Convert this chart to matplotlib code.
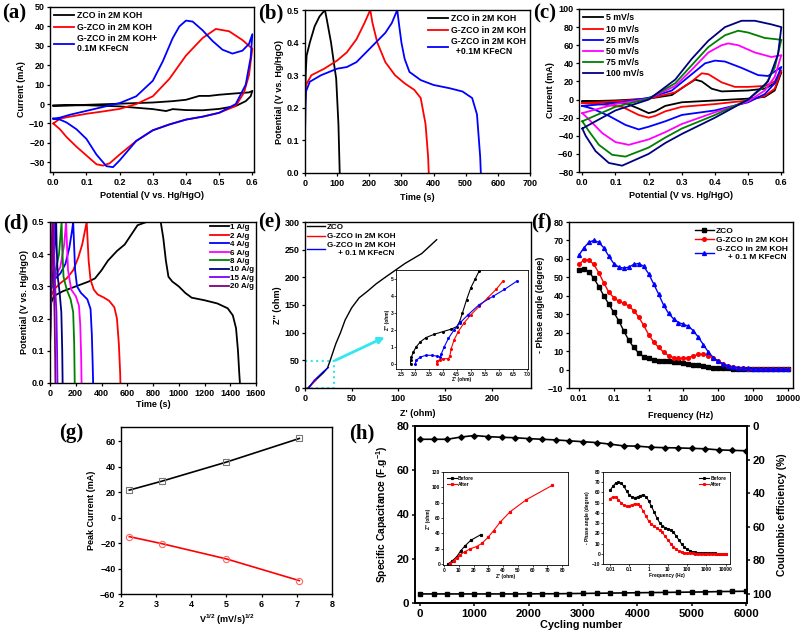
import matplotlib
matplotlib.use('Agg')
import matplotlib.pyplot as plt
from matplotlib.patches import Rectangle

plt.rcParams['font.family'] = ['Liberation Sans', 'DejaVu Sans']
plt.rcParams['font.weight'] = 'bold'
plt.rcParams['axes.labelweight'] = 'bold'
plt.rcParams['mathtext.default'] = 'regular'

# ---------------- (a) CV, 25 mV/s ----------------
a_zco_v = [0, 0.1, 0.2, 0.3, 0.36, 0.4, 0.42, 0.44, 0.47, 0.5, 0.55, 0.59, 0.6,
           0.595, 0.58, 0.55, 0.5, 0.45, 0.4, 0.36, 0.34, 0.3, 0.2, 0.1, 0]
a_zco_i = [-0.8, -0.4, 0.2, 0.8, 1.5, 2.2, 3.2, 4.2, 4.2, 4.8, 5.5, 6, 6.8,
           4, 1.5, -1, -2.5, -3.2, -3.1, -2.6, -3.6, -2.6, -1.2, -0.6, -0.8]
a_gzco_v = [0, 0.02, 0.05, 0.1, 0.15, 0.2, 0.25, 0.3, 0.35, 0.4, 0.45, 0.49, 0.53, 0.57, 0.6,
            0.59, 0.575, 0.55, 0.5, 0.45, 0.4, 0.35, 0.3, 0.25, 0.2, 0.17, 0.15, 0.13,
            0.1, 0.07, 0.04, 0.02, 0]
a_gzco_i = [-10, -7.5, -6.5, -5, -3.8, -2.5, 0, 4, 13, 25, 34, 38.7, 37.5, 33, 28.5,
            15, 6, -1, -4.5, -6.5, -8, -10.5, -13.5, -19, -26, -30.5, -31.7, -31,
            -26.5, -22, -17, -13, -10]
a_kfe_v = [0, 0.02, 0.05, 0.1, 0.15, 0.2, 0.25, 0.3, 0.33, 0.36, 0.38, 0.4, 0.42, 0.45,
           0.48, 0.51, 0.54, 0.57, 0.59, 0.6,
           0.595, 0.58, 0.55, 0.5, 0.45, 0.4, 0.35, 0.3, 0.25, 0.22, 0.2, 0.18, 0.16,
           0.13, 0.1, 0.07, 0.04, 0.02, 0]
a_kfe_i = [-7.5, -7, -5.5, -3.5, -1.5, 0.5, 4, 12, 22, 34, 40, 43, 42.5, 38,
           32.5, 28, 26, 27.5, 31, 36,
           24, 10, 0, -4.5, -6.5, -8, -10.5, -13.5, -19, -25, -29, -32.5, -32,
           -26, -18, -13, -9.5, -8, -7.5]
a_labels = ['ZCO in 2M KOH', 'G-ZCO in 2M KOH', 'G-ZCO in 2M KOH+\n0.1M KFeCN']

# ---------------- (b) GCD ----------------
b_zco_t = [0, 2, 5, 15, 30, 45, 62, 68, 81, 91, 97, 104, 108]
b_zco_u = [0.1, 0.3, 0.36, 0.4, 0.45, 0.48, 0.5, 0.47, 0.4, 0.33, 0.29, 0.15, 0.0]
b_gzco_t = [0, 3, 20, 60, 100, 130, 160, 185, 203, 210, 225, 250, 280, 310, 340, 360, 375, 383, 385]
b_gzco_u = [0.22, 0.27, 0.3, 0.32, 0.345, 0.37, 0.41, 0.46, 0.5, 0.46, 0.4, 0.34, 0.3,
            0.275, 0.255, 0.23, 0.15, 0.05, 0.0]
b_kfe_t = [0, 1, 3, 15, 50, 100, 130, 160, 190, 220, 250, 270, 287,
           292, 300, 310, 325, 360, 400, 450, 490, 520, 535, 545, 547]
b_kfe_u = [0.1, 0.2, 0.25, 0.28, 0.3, 0.32, 0.325, 0.34, 0.37, 0.4, 0.43, 0.46, 0.5,
           0.46, 0.4, 0.35, 0.31, 0.285, 0.27, 0.26, 0.25, 0.23, 0.18, 0.05, 0.0]
b_labels = ['ZCO in 2M KOH', 'G-ZCO in 2M KOH', 'G-ZCO in 2M KOH\n  +0.1M KFeCN']

# ---------------- (c) CV at scan rates ----------------
c_rates = ['5 mV/s', '10 mV/s', '25 mV/s', '50 mV/s', '75 mV/s', '100 mV/s']
c_v = [
    [0, 0.1, 0.2, 0.27, 0.31, 0.34, 0.36, 0.39, 0.42, 0.5, 0.55, 0.58, 0.6,
     0.58, 0.55, 0.5, 0.4, 0.3, 0.25, 0.22, 0.2, 0.17, 0.13, 0.05, 0],
    [0, 0.1, 0.2, 0.28, 0.33, 0.36, 0.38, 0.42, 0.46, 0.5, 0.55, 0.58, 0.6,
     0.58, 0.55, 0.5, 0.4, 0.3, 0.25, 0.22, 0.2, 0.17, 0.12, 0.05, 0],
    [0, 0.1, 0.2, 0.27, 0.32, 0.37, 0.4, 0.43, 0.48, 0.53, 0.56, 0.6,
     0.58, 0.55, 0.5, 0.4, 0.3, 0.25, 0.2, 0.17, 0.13, 0.08, 0.03, 0],
    [0, 0.05, 0.1, 0.2, 0.28, 0.33, 0.38, 0.42, 0.44, 0.47, 0.52, 0.57, 0.6,
     0.58, 0.55, 0.5, 0.4, 0.3, 0.25, 0.2, 0.14, 0.1, 0.06, 0.02, 0],
    [0, 0.05, 0.1, 0.2, 0.28, 0.33, 0.38, 0.43, 0.47, 0.5, 0.55, 0.6,
     0.58, 0.55, 0.5, 0.4, 0.3, 0.25, 0.2, 0.13, 0.09, 0.05, 0.02, 0],
    [0, 0.05, 0.1, 0.2, 0.28, 0.33, 0.38, 0.43, 0.48, 0.52, 0.57, 0.6,
     0.59, 0.56, 0.5, 0.4, 0.3, 0.25, 0.2, 0.12, 0.08, 0.04, 0.01, 0],
]
c_i = [
    [-2, -1, 1, 5, 15, 22, 20, 12, 9, 10, 12, 18, 30,
     10, 3, 1, -1, -3, -7, -13, -15, -10, -4, -2.5, -2],
    [-4, -2, 1, 8, 20, 29, 28, 19, 14, 14, 15, 20, 32,
     12, 4, -1, -5, -8, -13, -18, -20, -17, -8, -5, -4],
    [-7, -4, 2, 10, 25, 40, 43, 42, 35, 27, 26, 36,
     18, 6, -3, -12, -17, -24, -30, -33, -28, -18, -10, -7],
    [-15, -10, -5, 1, 15, 33, 52, 60, 62, 60, 52, 47, 49,
     25, 10, -2, -14, -27, -36, -44, -50, -47, -37, -22, -15],
    [-24, -16, -8, 1, 18, 38, 58, 71, 76, 74, 68, 66,
     35, 15, 0, -17, -32, -42, -53, -63, -61, -50, -35, -24],
    [-32, -22, -12, 0, 22, 45, 65, 80, 87, 87, 83, 80,
     50, 20, 0, -20, -38, -48, -60, -73, -70, -57, -40, -32],
]
c_colors = ['black', 'red', '#0000ff', '#ff00ff', '#008000', '#000080']

# ---------------- (d) GCD at current densities ----------------
d_rates = ['1 A/g', '2 A/g', '4 A/g', '6 A/g', '8 A/g', '10 A/g', '15 A/g', '20 A/g']
d_t = [
    [0, 3, 10, 30, 100, 200, 300, 350, 400, 450, 520, 580, 630, 680, 750, 860,
     880, 900, 920, 950, 1000, 1050, 1100, 1200, 1300, 1380, 1420, 1445, 1460, 1470, 1475],
    [0, 3, 10, 30, 80, 130, 180, 220, 250, 270, 285,
     290, 300, 315, 340, 370, 420, 460, 500, 520, 535, 545, 547],
    [0, 3, 10, 30, 80, 120, 150, 170, 180, 185, 195, 210, 240, 290, 315, 325, 332, 335],
    [0, 3, 10, 40, 80, 110, 125, 130, 140, 165, 200, 225, 235, 242, 245],
    [0, 3, 10, 40, 70, 90, 95, 105, 130, 160, 180, 188, 192],
    [0, 3, 10, 25, 40, 48, 52, 60, 75, 88, 95, 98],
    [0, 3, 10, 20, 30, 33, 40, 50, 55, 58],
    [0, 3, 10, 20, 23, 30, 36, 40, 42],
]
d_u = [
    [0.1, 0.2, 0.25, 0.27, 0.285, 0.3, 0.315, 0.325, 0.35, 0.38, 0.41, 0.43, 0.46, 0.49, 0.5, 0.5,
     0.45, 0.38, 0.33, 0.315, 0.3, 0.28, 0.265, 0.257, 0.247, 0.232, 0.21, 0.17, 0.1, 0.03, 0.0],
    [0.1, 0.2, 0.27, 0.29, 0.31, 0.325, 0.35, 0.39, 0.43, 0.47, 0.5,
     0.46, 0.38, 0.32, 0.29, 0.275, 0.265, 0.255, 0.235, 0.2, 0.12, 0.03, 0.0],
    [0.1, 0.2, 0.29, 0.32, 0.34, 0.37, 0.42, 0.47, 0.5, 0.45, 0.35, 0.3, 0.28, 0.26, 0.23, 0.15, 0.05, 0.0],
    [0.1, 0.22, 0.3, 0.33, 0.36, 0.43, 0.5, 0.45, 0.35, 0.29, 0.27, 0.24, 0.18, 0.08, 0.0],
    [0.1, 0.23, 0.3, 0.34, 0.4, 0.5, 0.42, 0.33, 0.29, 0.26, 0.22, 0.12, 0.0],
    [0.1, 0.25, 0.31, 0.35, 0.45, 0.5, 0.42, 0.33, 0.28, 0.22, 0.1, 0.0],
    [0.1, 0.28, 0.33, 0.4, 0.5, 0.4, 0.3, 0.22, 0.1, 0.0],
    [0.1, 0.3, 0.38, 0.5, 0.4, 0.3, 0.2, 0.08, 0.0],
]
d_colors = ['black', 'red', '#0000ff', '#ff00ff', '#008000', '#000080', '#8000ff', '#800080']

# ---------------- (e) Nyquist ----------------
e_zco_re = [3, 6, 10, 15, 20, 24, 26, 29, 33, 38, 43, 50, 58, 67, 76, 85, 96, 107, 125, 141]
e_zco_im = [0, 5, 12, 20, 28, 36, 45, 60, 80, 100, 123, 145, 163, 175, 188, 199, 212, 225, 243, 268]
e_gzco_re = [3.8, 6, 9, 12]
e_gzco_im = [0, 4, 10, 15]
e_kfe_re = [4, 6, 10, 15, 20, 25]
e_kfe_im = [0, 5, 14, 22, 30, 37]
e_labels = ['ZCO', 'G-ZCO in 2M KOH', 'G-ZCO in 2M KOH\n     + 0.1 M KFeCN']
# inset (high-frequency region)
ei_zco_re = [2.85, 2.85, 2.88, 2.95, 3.05, 3.2, 3.4, 3.7, 4.0, 4.3, 4.5, 4.6, 4.7, 4.85, 5.0, 5.15, 5.3]
ei_zco_im = [0, 0.2, 0.4, 0.7, 1.0, 1.3, 1.55, 1.75, 1.9, 2.05, 2.2, 2.5, 3.0, 3.8, 4.5, 5.0, 5.5]
ei_gzco_re = [3.78, 3.8, 3.9, 4.0, 4.2, 4.25, 4.3, 4.4, 4.55, 4.75, 5.0, 5.3, 5.6, 5.9, 6.15]
ei_gzco_im = [0, 0.15, 0.25, 0.3, 0.3, 0.45, 0.9, 1.4, 1.9, 2.4, 2.9, 3.4, 3.9, 4.4, 4.9]
ei_kfe_re = [3.02, 3.05, 3.2, 3.4, 3.6, 3.8, 3.9, 3.95, 4.05, 4.2, 4.4, 4.6, 4.9, 5.3, 5.8, 6.2, 6.65]
ei_kfe_im = [0, 0.2, 0.4, 0.5, 0.5, 0.45, 0.4, 0.6, 1.0, 1.5, 2.0, 2.4, 2.9, 3.5, 4.0, 4.4, 4.9]

# ---------------- (f) Bode phase ----------------
freq = [0.01, 0.0139, 0.0193, 0.0268, 0.0373, 0.0518, 0.072,
        0.1, 0.139, 0.193, 0.268, 0.373, 0.518, 0.72,
        1, 1.39, 1.93, 2.68, 3.73, 5.18, 7.2,
        10, 13.9, 19.3, 26.8, 37.3, 51.8, 72,
        100, 139, 193, 268, 373, 518, 720,
        1000, 1390, 1930, 2680, 3730, 5180, 7200, 10000]
f_zco = [54, 54.5, 53, 49.5, 45, 40, 35.5,
         31, 26.5, 21, 16, 12, 9, 7,
         6, 5.2, 4.8, 4.6, 4.5, 4.3, 4,
         3.6, 3.1, 2.6, 2.2, 1.8, 1.4, 1.1,
         0.9, 0.7, 0.6, 0.5, 0.4, 0.3, 0.3,
         0.2, 0.2, 0.2, 0.1, 0.1, 0.1, 0.1, 0.1]
f_gzco = [57, 59.5, 59.5, 57, 52.5, 47, 42,
          39, 37, 36, 34.5, 32, 28.5, 24,
          19, 15, 12, 9.5, 7.5, 6.5, 6,
          6, 6.5, 7.5, 8.2, 8.3, 7.5, 6.2,
          4.5, 3, 2, 1.3, 0.9, 0.6, 0.4,
          0.3, 0.3, 0.2, 0.2, 0.2, 0.1, 0.1, 0.1]
f_kfe = [62, 66, 69, 70, 69, 66, 61.5,
         57.5, 55.5, 55, 55.5, 57, 57.5, 56,
         52, 46.5, 41, 35, 30.5, 27.5, 25.5,
         24.5, 23.5, 21, 17.5, 13.5, 9.5, 6.5,
         4.5, 3, 2, 1.5, 1.1, 0.8, 0.6,
         0.5, 0.4, 0.3, 0.3, 0.2, 0.2, 0.2, 0.1]
f_labels = ['ZCO', 'G-ZCO in 2M KOH', 'G-ZCO in 2M KOH\n     + 0.1 M KFeCN']
f_ticks = [0.01, 0.1, 1, 10, 100, 1000, 10000]
f_ticklabels = ['0.01', '0.1', '1', '10', '100', '1000', '10000']

# ---------------- (g) peak current vs sqrt(scan rate) ----------------
g_sqrt_rate = [2.236, 3.162, 5.0, 7.071]
g_anodic = [21.5, 28.5, 43.5, 62]
g_cathodic = [-15, -20.5, -32.5, -49.5]

# ---------------- (h) cycling ----------------
h_cycles = [0, 250, 500, 750, 1000, 1250, 1500, 1750, 2000, 2250, 2500, 2750, 3000,
            3250, 3500, 3750, 4000, 4250, 4500, 4750, 5000, 5250, 5500, 5750, 6000]
h_capacitance = [74, 74, 74, 75, 75.7, 75.2, 74.9, 74.7, 74.3, 74, 73.7, 73.3, 72.9,
                 72.5, 71.8, 71, 70.9, 70.4, 70.2, 70.1, 69.9, 69.7, 69.2, 69, 68.8]
h_efficiency = [100, 100, 100, 100, 100, 100, 100, 100, 100, 99.9, 99.9, 99.8, 99.7,
                99.6, 99.5, 99.4, 99.3, 99.2, 99.1, 99.0, 98.9, 98.8, 98.6, 98.5, 98.4]
# inset 1: Nyquist before / after cycling
hn_before_re = [2.5, 5.4, 8.7, 11.4, 14.3, 18, 24.9]
hn_before_im = [0, 4, 10, 17.7, 24, 31, 38.5]
hn_after_re = [3.8, 6.5, 8.7, 11, 14.3, 17.7, 22, 25.6, 29.8, 33.6, 37.9, 44.6, 55.8, 73.3]
hn_after_im = [0.9, 4, 8.7, 12.6, 16.5, 20, 23, 27, 35, 43.7, 54.5, 68, 84, 102.6]
# inset 2: phase before / after cycling (same frequency grid)
hp_before = f_kfe
hp_after = [54, 55.5, 55.5, 53, 50, 47.5, 46.5,
            47, 48, 49, 48.5, 46.5, 42, 37,
            32, 29, 27, 25, 23, 21, 17,
            13.5, 10, 7, 4.5, 2.8, 1.8, 1.2,
            0.8, 0.5, 0.3, 0.2, 0.1, 0.1, 0,
            0, 0, 0, 0, 0, 0, 0, 0]

W, H = 803, 635


def box(l, t, r, b):
    return [l / W, 1 - b / H, (r - l) / W, (b - t) / H]


def style(ax, fs=6.5, lw=1.0):
    ax.tick_params(labelsize=fs, width=lw * 0.9, length=2.5, pad=1.5)
    for s in ax.spines.values():
        s.set_linewidth(lw)


def letter(fig, x, y, s):
    fig.text(x / W, 1 - y / H, s, family='Liberation Serif', weight='bold',
             fontsize=15, ha='center', va='center')


fig = plt.figure(figsize=(8.03, 6.35), dpi=100)
lfs = 6.5
legkw = dict(frameon=False, fontsize=6.3, handlelength=2.3, handletextpad=0.3,
             labelspacing=0.25, borderaxespad=0.3, borderpad=0.2)

# (a)
ax = fig.add_axes(box(50, 7, 254, 172))
ax.plot(a_zco_v, a_zco_i, color='black', lw=1.3, label=a_labels[0])
ax.plot(a_gzco_v, a_gzco_i, color='red', lw=1.3, label=a_labels[1])
ax.plot(a_kfe_v, a_kfe_i, color='#0000ff', lw=1.3, label=a_labels[2])
ax.set_xlim(-0.01, 0.605)
ax.set_ylim(-35, 50)
ax.set_xticks([0, 0.1, 0.2, 0.3, 0.4, 0.5, 0.6])
ax.set_xticklabels(['0.0', '0.1', '0.2', '0.3', '0.4', '0.5', '0.6'])
ax.set_yticks(range(-30, 51, 10))
ax.set_xlabel('Potential (V vs. Hg/HgO)', fontsize=lfs, labelpad=3)
ax.set_ylabel('Current (mA)', fontsize=lfs, labelpad=2)
ax.legend(loc='upper left', **legkw)
style(ax)

# (b)
ax = fig.add_axes(box(305, 10, 530, 173))
ax.plot(b_zco_t, b_zco_u, color='black', lw=1.3, label=b_labels[0])
ax.plot(b_gzco_t, b_gzco_u, color='red', lw=1.3, label=b_labels[1])
ax.plot(b_kfe_t, b_kfe_u, color='#0000ff', lw=1.3, label=b_labels[2])
ax.set_xlim(0, 700)
ax.set_ylim(0, 0.5)
ax.set_xticks(range(0, 701, 100))
ax.set_yticks([0, 0.1, 0.2, 0.3, 0.4, 0.5])
ax.set_yticklabels(['0.0', '0.1', '0.2', '0.3', '0.4', '0.5'])
ax.set_xlabel('Time (s)', fontsize=lfs, labelpad=4)
ax.set_ylabel('Potential (V vs. Hg/HgO)', fontsize=lfs, labelpad=2)
ax.legend(loc='upper right', **legkw)
style(ax)

# (c)
ax = fig.add_axes(box(579, 9, 783, 172))
for v, i, c, lab in zip(c_v, c_i, c_colors, c_rates):
    ax.plot(v, i, color=c, lw=1.3, label=lab)
ax.set_xlim(-0.01, 0.605)
ax.set_ylim(-80, 100)
ax.set_xticks([0, 0.1, 0.2, 0.3, 0.4, 0.5, 0.6])
ax.set_xticklabels(['0.0', '0.1', '0.2', '0.3', '0.4', '0.5', '0.6'])
ax.set_yticks(range(-80, 101, 20))
ax.set_xlabel('Potential (V vs. Hg/HgO)', fontsize=lfs, labelpad=3)
ax.set_ylabel('Current (mA)', fontsize=lfs, labelpad=2)
ax.legend(loc='upper left', **legkw)
style(ax)

# (d)
ax = fig.add_axes(box(50, 222, 256, 383))
for t, u, c, lab in zip(d_t, d_u, d_colors, d_rates):
    ax.plot(t, u, color=c, lw=1.3, label=lab)
ax.set_xlim(0, 1600)
ax.set_ylim(0, 0.5)
ax.set_xticks(range(0, 1601, 200))
ax.set_yticks([0, 0.1, 0.2, 0.3, 0.4, 0.5])
ax.set_yticklabels(['0.0', '0.1', '0.2', '0.3', '0.4', '0.5'])
ax.set_xlabel('Time (s)', fontsize=lfs, labelpad=2)
ax.set_ylabel('Potential (V vs. Hg/HgO)', fontsize=lfs, labelpad=2)
ax.legend(loc='upper right', frameon=False, fontsize=5.8, handlelength=2.3,
          handletextpad=0.2, labelspacing=0.1, borderaxespad=0.1, borderpad=0.1)
style(ax)

# (e)
ax = fig.add_axes(box(305, 222, 531, 388))
ax.plot(e_zco_re, e_zco_im, color='black', lw=1.0, label=e_labels[0])
ax.plot(e_gzco_re, e_gzco_im, color='red', lw=1.0, label=e_labels[1])
ax.plot(e_kfe_re, e_kfe_im, color='#0000ff', lw=1.0, label=e_labels[2])
ax.add_patch(Rectangle((0, 0), 31, 48, fill=False, ls=':', lw=1.5, ec='#33e6f0'))
ax.annotate('', xy=(88, 94), xytext=(30, 48),
            arrowprops=dict(arrowstyle='-|>', color='#33e6f0', lw=2.0, mutation_scale=9))
ax.set_xlim(0, 242)
ax.set_ylim(0, 300)
ax.set_xticks([0, 50, 100, 150, 200])
ax.set_yticks(range(0, 301, 50))
ax.set_xlabel("Z' (ohm)", fontsize=lfs, labelpad=5)
ax.set_ylabel("Z'' (ohm)", fontsize=lfs, labelpad=2)
ax.legend(loc='upper left', frameon=False, fontsize=5.8, handlelength=2.3,
          handletextpad=0.2, labelspacing=0.2, borderaxespad=0.1, borderpad=0.1)
style(ax)

axi = fig.add_axes(box(396, 270, 528, 369))
axi.plot(ei_zco_re, ei_zco_im, color='black', lw=0.8, marker='o', ms=1.2)
axi.plot(ei_gzco_re, ei_gzco_im, color='red', lw=0.8, marker='o', ms=1.2)
axi.plot(ei_kfe_re, ei_kfe_im, color='#0000ff', lw=0.8, marker='o', ms=1.2)
axi.set_xlim(2.33, 7.04)
axi.set_ylim(-0.31, 5.55)
axi.set_xticks([2.5, 3.0, 3.5, 4.0, 4.5, 5.0, 5.5, 6.0, 6.5, 7.0])
axi.set_xticklabels(['2.5', '3.0', '3.5', '4.0', '4.5', '5.0', '5.5', '6.0', '6.5', '7.0'])
axi.set_yticks(range(0, 6))
axi.set_xlabel("Z' (ohm)", fontsize=3.5, labelpad=0.5)
axi.set_ylabel("Z'' (ohm)", fontsize=3.5, labelpad=0.5)
axi.tick_params(labelsize=3.5, length=1.2, width=0.5, pad=0.8)
for s in axi.spines.values():
    s.set_linewidth(0.6)

# (f)
ax = fig.add_axes(box(569, 222, 793, 388))
ax.plot(freq, f_zco, color='black', lw=1.0, marker='s', ms=2.4, label=f_labels[0])
ax.plot(freq, f_gzco, color='red', lw=1.0, marker='o', ms=2.6, label=f_labels[1])
ax.plot(freq, f_kfe, color='#0000ff', lw=1.0, marker='^', ms=2.8, label=f_labels[2])
ax.set_xscale('log')
ax.set_xlim(0.0052, 13900)
ax.set_ylim(-10, 80)
ax.set_xticks(f_ticks)
ax.set_xticklabels(f_ticklabels)
ax.minorticks_off()
ax.set_yticks(range(-10, 81, 10))
ax.set_xlabel('Frequency (Hz)', fontsize=lfs, labelpad=6)
ax.set_ylabel('- Phase angle (degree)', fontsize=lfs, labelpad=2)
ax.legend(loc='upper right', frameon=False, fontsize=6.0, handlelength=2.2,
          handletextpad=0.3, labelspacing=0.2, borderaxespad=0.3, borderpad=0.3)
style(ax)

# (g)
ax = fig.add_axes(box(121, 427, 332, 594))
ax.plot(g_sqrt_rate, g_anodic, color='black', lw=1.2, marker='s', ms=4,
        mfc='none', mec='#777777', mew=0.8)
ax.plot(g_sqrt_rate, g_cathodic, color='red', lw=1.2, marker='o', ms=4.5,
        mfc='none', mec='#ff6666', mew=0.8)
ax.set_xlim(2, 8)
ax.set_ylim(-60, 71)
ax.set_xticks(range(2, 9))
ax.set_yticks(range(-60, 61, 20))
ax.set_xlabel(r'V$^{1/2}$ (mV/s)$^{1/2}$', fontsize=lfs, labelpad=3)
ax.set_ylabel('Peak Current (mA)', fontsize=lfs, labelpad=3)
style(ax)

# (h)
hfs = 7.4
ax = fig.add_axes(box(415, 426, 747, 603))
ax.plot(h_cycles, h_capacitance, color='black', lw=1.2, marker='D', ms=2.8)
ax.set_xlim(-92, 6018)
ax.set_ylim(0, 80)
ax.set_xticks(range(0, 6001, 1000))
ax.set_yticks(range(0, 81, 20))
ax.set_xlabel('Cycling number', fontsize=hfs + 0.4, labelpad=1)
ax.set_ylabel('Specific Capacitance (F.g$^{-1}$)', fontsize=hfs, labelpad=5)
style(ax, fs=8.2, lw=1.2)
ax2 = ax.twinx()
ax2.plot(h_cycles, h_efficiency, color='black', lw=1.2, marker='s', ms=3.5)
ax2.set_ylim(105.4, 0)
ax2.set_yticks(range(0, 101, 20))
ax2.set_ylabel('Coulombic efficiency (%)', fontsize=hfs, labelpad=4)
style(ax2, fs=8.2, lw=1.2)

axn = fig.add_axes(box(443, 472, 568, 565))
axn.plot(hn_before_re, hn_before_im, color='black', lw=0.8, marker='s', ms=1.3, label='Before')
axn.plot(hn_after_re, hn_after_im, color='red', lw=0.8, marker='s', ms=1.3, label='After')
axn.set_xlim(-0.7, 84)
axn.set_ylim(-1, 120)
axn.set_xticks(range(0, 81, 10))
axn.set_yticks(range(0, 121, 20))
axn.set_xlabel("Z' (ohm)", fontsize=3.5, labelpad=1)
axn.set_ylabel("Z'' (ohm)", fontsize=3.5, labelpad=1)
axn.tick_params(labelsize=3.5, length=1.2, width=0.5, pad=0.8)
axn.legend(loc='upper left', frameon=False, fontsize=3.5, handlelength=2.0,
           handletextpad=0.3, labelspacing=0.2, borderaxespad=0.4)
for s in axn.spines.values():
    s.set_linewidth(0.6)

axp = fig.add_axes(box(603, 472, 730, 564))
axp.plot(freq, hp_before, color='black', lw=0.8, marker='s', ms=1.2, label='Before')
axp.plot(freq, hp_after, color='red', lw=0.8, marker='s', ms=1.2, label='After')
axp.set_xscale('log')
axp.set_xlim(0.0043, 16700)
axp.set_ylim(-10, 80)
axp.set_xticks(f_ticks)
axp.set_xticklabels(f_ticklabels)
axp.minorticks_off()
axp.set_yticks(range(-10, 81, 10))
axp.set_xlabel('Frequency (Hz)', fontsize=3.5, labelpad=1)
axp.set_ylabel('- Phase angle (degree)', fontsize=3.5, labelpad=1)
axp.tick_params(labelsize=3.5, length=1.2, width=0.5, pad=0.8)
axp.legend(loc='upper right', frameon=False, fontsize=3.5, handlelength=2.0,
           handletextpad=0.3, labelspacing=0.2, borderaxespad=0.4)
for s in axp.spines.values():
    s.set_linewidth(0.6)

letter(fig, 14, 13, '(a)')
letter(fig, 271, 13, '(b)')
letter(fig, 545, 13, '(c)')
letter(fig, 16, 223, '(d)')
letter(fig, 270, 222, '(e)')
letter(fig, 542, 222, '(f)')
letter(fig, 71, 433, '(g)')
letter(fig, 362, 433, '(h)')

fig.savefig('out.png', dpi=100)
